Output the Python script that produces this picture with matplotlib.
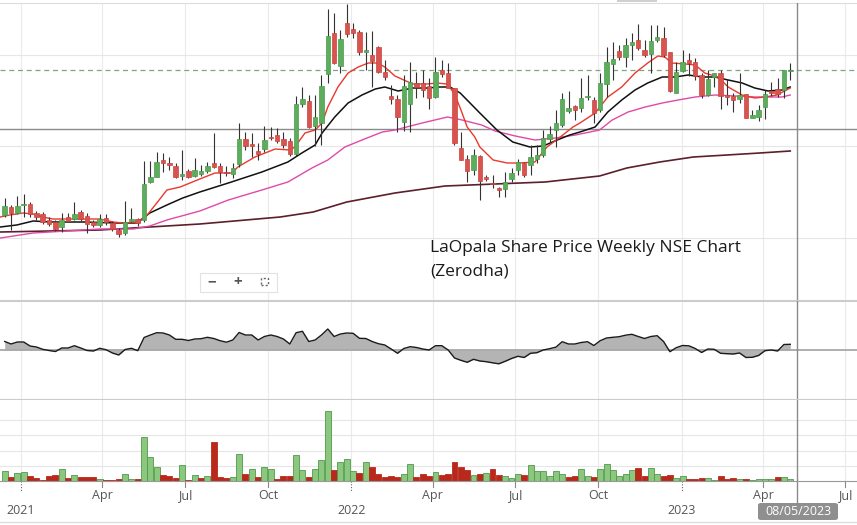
import datetime
import numpy as np
import matplotlib
matplotlib.use('Agg')
import matplotlib.pyplot as plt
import matplotlib.dates as mdates
from matplotlib.patches import Rectangle, FancyBboxPatch
from matplotlib.lines import Line2D

plt.rcParams['font.family'] = ['Open Sans', 'DejaVu Sans']

################################################################################
########    DATA  (weekly candles, first week 14 Dec 2020)
################################################################################

start = datetime.date(2020, 12, 14)

opens = [235, 243, 237, 245, 246, 237, 236, 230, 228, 223,
         233, 231, 238, 234, 228, 225, 232, 227, 220, 217,
         229, 231, 230, 268, 273, 290, 287, 284, 274, 279,
         274, 276, 279, 287, 284, 278, 276, 286, 311, 306,
         299, 301, 313, 315, 311, 309, 296, 346, 349, 324,
         327, 376, 417, 384, 427, 421, 418, 398, 395, 403,
         378, 354, 351, 328, 346, 367, 367, 364, 353, 380,
         377, 362, 302, 291, 280, 294, 273, 267, 262, 261,
         271, 280, 287, 285, 291, 295, 311, 320, 325, 339,
         344, 342, 353, 350, 340, 366, 386, 399, 393, 405,
         410, 400, 396, 410, 412, 398, 357, 379, 390, 388,
         375, 355, 373, 377, 355, 354, 351, 356, 332, 333,
         343, 359, 361, 360, 379]

closes = [244, 237, 244, 246, 236, 233, 228, 226, 221, 230,
          229, 236, 231, 226, 225, 231, 228, 221, 216, 228,
          231, 227, 266, 273, 288, 287, 285, 273, 276, 273,
          280, 279, 284, 283, 278, 277, 282, 311, 304, 304,
          296, 310, 312, 309, 305, 296, 346, 351, 323, 333,
          364, 414, 387, 411, 416, 417, 398, 400, 389, 378,
          373, 351, 333, 364, 368, 363, 360, 352, 378, 376,
          362, 307, 290, 279, 295, 269, 271, 266, 260, 268,
          277, 288, 275, 293, 295, 312, 316, 327, 351, 342,
          340, 352, 354, 337, 367, 388, 391, 393, 405, 408,
          402, 395, 409, 413, 395, 359, 378, 388, 387, 374,
          355, 371, 377, 354, 353, 350, 355, 332, 335, 340,
          356, 357, 356, 380, 380]

highs = [252, 245, 254, 256, 248, 239, 238, 233, 230, 237,
         237, 248, 240, 237, 230, 236, 236, 229, 222, 249,
         242, 232, 289, 289, 298, 297, 293, 287, 300, 281,
         292, 285, 288, 317, 287, 284, 287, 327, 318, 317,
         307, 324, 323, 322, 318, 312, 354, 363, 355, 355,
         375, 441, 437, 420, 446, 427, 420, 418, 419, 404,
         390, 365, 355, 375, 388, 378, 380, 372, 393, 390,
         387, 362, 318, 295, 301, 295, 275, 275, 263, 278,
         282, 291, 288, 305, 305, 320, 324, 340, 357, 359,
         345, 372, 375, 353, 377, 403, 408, 405, 412, 417,
         426, 410, 425, 425, 423, 398, 388, 400, 397, 392,
         377, 380, 377, 380, 371, 357, 377, 356, 340, 345,
         360, 368, 372, 380, 387]

lows = [233, 220, 236, 233, 233, 230, 226, 224, 219, 218,
        228, 230, 229, 217, 223, 223, 225, 219, 213, 215,
        228, 224, 228, 267, 273, 278, 280, 272, 270, 272,
        273, 274, 277, 282, 267, 274, 272, 283, 300, 293,
        290, 298, 310, 307, 302, 294, 294, 343, 322, 304,
        305, 367, 386, 377, 413, 412, 395, 380, 363, 377,
        370, 346, 318, 319, 318, 352, 353, 341, 352, 373,
        362, 305, 290, 268, 275, 250, 269, 262, 253, 253,
        268, 275, 273, 275, 287, 293, 308, 303, 323, 337,
        330, 338, 350, 327, 338, 353, 370, 390, 383, 390,
        400, 393, 377, 408, 393, 358, 357, 378, 374, 370,
        352, 354, 363, 341, 345, 338, 347, 332, 332, 329,
        331, 354, 353, 352, 370]

# weekly volume ('000 shares)
volumes = [100, 37, 77, 87, 50, 27, 10, 47, 57, 117,
           27, 57, 37, 37, 37, 17, 13, 7, 17, 70,
           17, 17, 437, 237, 137, 57, 47, 30, 157, 13,
           57, 27, 47, 387, 43, 27, 37, 270, 67, 117,
           37, 137, 117, 23, 47, 47, 257, 107, 37, 117,
           207, 687, 107, 187, 217, 97, 77, 187, 137, 67,
           37, 47, 37, 70, 167, 37, 67, 47, 87, 57,
           67, 187, 137, 107, 57, 67, 77, 117, 57, 47,
           27, 67, 57, 157, 97, 97, 47, 97, 67, 37,
           47, 117, 47, 37, 117, 167, 107, 47, 67, 107,
           127, 47, 127, 67, 47, 57, 27, 47, 17, 17,
           27, 27, 7, 47, 17, 27, 17, 17, 7, 17,
           17, 17, 37, 37, 17]

# middle panel oscillator
osc = [8.5, 6, 8, 8, 4, 3, 0.7, -0.5, -1.5, 2,
       2, 4.3, 2, -0.5, -1, 1.7, 0.3, -3, -5, 0.5,
       1.7, -0.7, 12.5, 15, 17.3, 17, 15, 10.7, 10.7, 9.5,
       11, 11.3, 12.7, 11.5, 9.3, 7.8, 10, 17.5, 15, 15,
       10, 13.5, 15, 13.5, 11, 6, 17.3, 18.7, 8.5, 10,
       15, 21, 13.5, 16, 17, 16.7, 11.7, 11.5, 8.5, 6.3,
       5, 1, -3.3, 1.5, 3.3, 2.5, 1, 0, 4.3, 4.3,
       0, -8, -10.3, -12.3, -9.3, -11, -11.7, -12.8, -13.8, -11.3,
       -8.5, -6.3, -7.5, -3.3, -2.7, 0, 1.3, 2.8, 8.3, 6,
       6, 7.5, 8.3, 4.5, 9.3, 12, 12.7, 13.3, 14.8, 15.7,
       13.5, 11.5, 13.5, 14.3, 8.5, -1.7, 2.3, 4.5, 4.2, 1.5,
       -2.5, 1, 0.7, -3.3, -3.7, -4, -3, -7.5, -7.3, -5.5,
       -0.7, 0, -1, 5.5, 5.7]

# moving averages: (week number, value)
ema_fast_w = [-0.7, 0.8, 2.9, 4.5, 6.0, 7.6, 9.8, 12.4, 15.0, 17.1, 18.7, 20.9,
              22.5, 24.0, 25.6, 27.7, 30.8, 33.2, 35.9, 36.8, 39.5, 42.7, 45.0,
              45.8, 47.4, 49.0, 50.1, 51.0, 52.6, 54.2, 55.8, 57.4, 58.8, 60.0,
              61.6, 64.4, 66.7, 68.2, 69.8, 70.8, 71.4, 72.2, 73.0, 74.2, 75.0,
              77.1, 79.3, 81.3, 83.7, 85.6, 87.7, 89.7, 90.8, 93.2, 95.2, 97.4,
              99.5, 101.5, 103.1, 104.2, 105.3, 107.4, 109.0, 110.5, 112.6,
              114.2, 116.4, 118.4, 120.0, 121.9, 124.0]
ema_fast = [233, 235, 237, 236, 233, 231, 231, 231, 231, 228, 227, 228,
            235, 247, 260, 263, 271, 277, 277, 283, 293, 301, 300,
            303, 317, 320, 327, 343, 363, 377, 383, 387, 387, 383,
            374, 366, 366, 367, 366, 358, 350, 337, 323, 313, 303,
            290, 287, 287, 288, 303, 313, 323, 327, 337, 353, 363,
            377, 387, 394, 393, 387, 386, 385, 377, 373,
            363, 355, 352, 353, 355, 362]

ema_mid_w = [-0.7, 1.9, 4.5, 7.2, 12.4, 17.7, 20.9, 22.9, 25.6, 28.1, 30.8,
             35.3, 40.6, 44.7, 46.9, 49.0, 50.1, 52.1, 54.2, 56.4, 58.5, 60.0,
             62.1, 64.4, 66.7, 68.7, 70.3, 71.9, 75.0, 77.7, 80.2, 82.9, 85.0,
             87.2, 89.2, 90.8, 93.2, 95.2, 97.4, 99.5, 101.5, 103.8, 105.8,
             107.9, 110.1, 112.1, 114.2, 116.4, 118.4, 120.5, 122.7, 124.0]
ema_mid = [223, 225, 229, 228, 228, 227, 227, 237, 245, 252, 258,
           267, 278, 288, 297, 305, 317, 333, 347, 355, 361, 363,
           359, 362, 362, 363, 363, 357, 337, 320, 308, 303, 304,
           310, 315, 318, 323, 338, 350, 360, 367, 373, 373,
           375, 373, 373, 370, 367, 362, 359, 360, 363]

ema_slow_w = [-0.7, 4.5, 9.8, 15.0, 20.3, 22.9, 25.6, 30.8, 35.3, 40.6, 44.7,
              48.5, 51.0, 53.7, 56.4, 59.6, 61.6, 65.9, 69.9, 72.2, 75.3, 77.4,
              80.6, 83.7, 86.9, 90.1, 93.9, 95.9, 98.4, 101.1, 103.8, 106.3,
              109.0, 112.1, 115.3, 118.4, 120.5, 122.7, 124.0]
ema_slow = [212, 217, 219, 221, 221, 224, 230, 239, 250, 260, 268,
            282, 290, 303, 310, 318, 320, 327, 333, 330, 325, 319,
            314, 310, 312, 315, 320, 330, 338, 343, 347, 350,
            353, 355, 354, 353, 353, 353, 355]

ema_long_w = [-0.7, 15.0, 30.8, 43.5, 48.7, 54.0, 61.6, 69.5, 77.4, 85.3,
              93.9, 98.2, 103.4, 108.7, 114.0, 119.2, 124.0]
ema_long = [218, 220, 226, 233, 238, 248, 257, 264, 266, 268,
            274, 282, 288, 293, 295, 297, 299]

last_close = closes[-1]
cross_price = 321
cross_date = datetime.date(2023, 5, 8)

################################################################################
########    FUNCTIONS
################################################################################

W, H = 857, 525

def fx(px):
    return px / W

def fy(py):
    return 1 - py / H

def week_x(w):
    return mdates.date2num(start) + 7 * np.asarray(w, dtype=float)

def Grid_x(ax):
    for yr in (2021, 2022, 2023):
        for mo in (1, 4, 7, 10):
            ax.axvline(mdates.date2num(datetime.date(yr, mo, 1)),
                       color='#ebebeb', lw=0.8, zorder=0)

################################################################################
########    MAIN
################################################################################

x = week_x(np.arange(len(opens)))
o = np.array(opens, float)
c = np.array(closes, float)
up = c >= o
prev = np.r_[c[0] - 1, c[:-1]]
vol_up = c >= prev

jan1 = mdates.date2num(datetime.date(2021, 1, 1))
x0 = jan1 - 21 / 0.905
x1 = x0 + W / 0.905

fig = plt.figure(figsize=(W / 100, H / 100), dpi=100)
ax_p = fig.add_axes([0, fy(300), 1, (300 - 3) / H])
ax_o = fig.add_axes([0, fy(399), 1, (399 - 301) / H])
ax_v = fig.add_axes([0, fy(481), 1, (481 - 400) / H])

for ax in (ax_p, ax_o, ax_v):
    ax.set_xlim(x0, x1)
    ax.set_xticks([])
    ax.set_yticks([])
    for s in ax.spines.values():
        s.set_visible(False)
    Grid_x(ax)

# ---- price panel
ax_p.set_ylim(150, 447)
for lvl in (395, 304, 212):
    ax_p.axhline(lvl, color='#e6e6e6', lw=0.8, zorder=0)
ax_p.spines['top'].set_visible(True)
ax_p.spines['top'].set_color('#dddddd')
ax_p.spines['bottom'].set_visible(True)
ax_p.spines['bottom'].set_color('#cccccc')

ax_p.axhline(last_close, color='#7fa680', lw=0.9, dashes=(4, 3), zorder=1)
ax_p.axhline(cross_price, color='#8a8a8a', lw=1.0, zorder=1)

ax_p.plot(week_x(ema_long_w), ema_long, color='#5c1f2b', lw=1.2, zorder=2)
ax_p.plot(week_x(ema_slow_w), ema_slow, color='#e04aa6', lw=1.0, zorder=2)
ax_p.plot(week_x(ema_mid_w), ema_mid, color='#111111', lw=1.1, zorder=2)
ax_p.plot(week_x(ema_fast_w), ema_fast, color='#e8392d', lw=1.0, zorder=2)

ax_p.vlines(x, lows, highs, color='#333333', lw=0.8, zorder=3)
body = np.maximum(np.abs(c - o), 0.8)
ax_p.bar(x, body, bottom=np.minimum(o, c), width=5.0,
         color=np.where(up, '#5cad5c', '#d9534f'),
         edgecolor=np.where(up, '#4a9a4a', '#c9433f'), lw=0.5, zorder=4)

# ---- oscillator panel
ax_o.set_ylim(-49, 49)
ax_o.spines['top'].set_visible(True)
ax_o.spines['top'].set_color('#cccccc')
ax_o.spines['bottom'].set_visible(True)
ax_o.spines['bottom'].set_color('#cccccc')
ax_o.fill_between(x, osc, 0, color='#b4b4b4', lw=0, zorder=1)
ax_o.axhline(0, color='#a8a8a8', lw=1.3, zorder=2)
ax_o.plot(x, osc, color='#1a1a1a', lw=1.0, zorder=3)

# ---- volume panel
ax_v.set_ylim(0, 800)
for lvl in (150, 300, 450, 600):
    ax_v.axhline(lvl, color='#e6e6e6', lw=0.8, zorder=0)
ax_v.bar(x, volumes, width=6.6,
         color=np.where(vol_up, '#8cc77e', '#b8291b'),
         edgecolor=np.where(vol_up, '#4f9a4f', '#b8291b'), lw=0.6, zorder=2)
ax_v.spines['bottom'].set_visible(True)
ax_v.spines['bottom'].set_color('#999999')

tr = ax_v.get_xaxis_transform()
for yr in (2021, 2022, 2023):
    for mo, lab in ((1, None), (4, 'Apr'), (7, 'Jul'), (10, 'Oct')):
        d = mdates.date2num(datetime.date(yr, mo, 1))
        if d > x1:
            continue
        if lab is None:
            ax_v.plot([d, d], [0, -0.13], transform=tr, color='#666666',
                      lw=0.8, ls=(0, (1, 1.5)), clip_on=False)
            ax_v.text(d, -0.36, str(yr), transform=tr, ha='center', va='center',
                      fontsize=9, color='#555555')
        else:
            ax_v.plot([d, d], [0, -0.07], transform=tr, color='#888888',
                      lw=0.8, clip_on=False)
            ax_v.text(d, -0.175, lab, transform=tr, ha='center', va='center',
                      fontsize=9, color='#555555')

# ---- crosshair and date label
xc = mdates.date2num(cross_date)
for ax in (ax_p, ax_o, ax_v):
    ax.axvline(xc, color='#8a8a8a', lw=1.0, zorder=5)
ax_v.plot([xc, xc], [0, -0.27], transform=tr, color='#8a8a8a', lw=1.0,
          clip_on=False)
fig.patches.append(FancyBboxPatch((fx(758), fy(520)), fx(80), 17 / H,
                                  boxstyle='round,pad=0,rounding_size=0.004',
                                  transform=fig.transFigure, fc='#8f8f8f',
                                  ec='none'))
fig.text(fx(798), fy(511.5), cross_date.strftime('%d/%m/%Y'), color='white',
         fontsize=9, ha='center', va='center')

# ---- chrome: separators, zoom buttons, title
fig.lines.append(Line2D([0, 1], [fy(521.5), fy(521.5)], transform=fig.transFigure,
                        color='#dddddd', lw=1))
fig.patches.append(Rectangle((fx(617), fy(2)), fx(40), 2 / H,
                             transform=fig.transFigure, fc='#d0d0d0', ec='none'))
fig.patches.append(Rectangle((fx(200), fy(292)), fx(77), 19 / H,
                             transform=fig.transFigure, fc='white', ec='#e2e2e2',
                             lw=0.8, zorder=6))
fig.text(fx(212), fy(282), '\u2212', fontsize=11, color='#555555',
         ha='center', va='center', fontweight='bold', zorder=7)
fig.text(fx(238), fy(282), '+', fontsize=11, color='#555555',
         ha='center', va='center', fontweight='bold', zorder=7)
fig.lines.append(Line2D([fx(252), fx(252)], [fy(276), fy(289)],
                        transform=fig.transFigure, color='#e2e2e2', lw=0.8))
fig.patches.append(Rectangle((fx(261), fy(285)), fx(7), 7 / H,
                             transform=fig.transFigure, fc='none', ec='#666666',
                             lw=1.0, ls=(0, (1.5, 1.5)), zorder=7))

fig.text(fx(430), fy(248), 'LaOpala Share Price Weekly NSE Chart',
         fontsize=12.5, color='#1a1a1a', ha='left', va='center')
fig.text(fx(430), fy(272), '(Zerodha)',
         fontsize=12.5, color='#1a1a1a', ha='left', va='center')

fig.savefig('out.png', dpi=100)
